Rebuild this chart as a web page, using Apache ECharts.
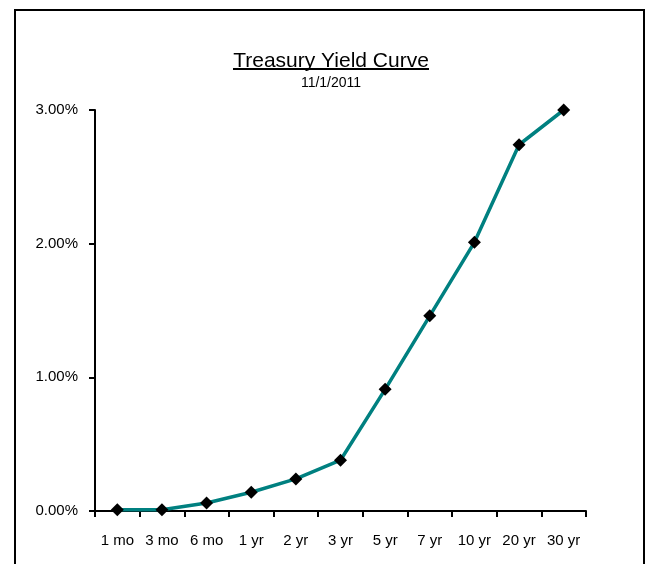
<!DOCTYPE html>
<html>
<head>
<meta charset="utf-8">
<script src="https://cdn.jsdelivr.net/npm/echarts@6/dist/echarts.min.js"></script>
<style>
html,body{margin:0;padding:0;background:#fff;}
#chart{width:647px;height:564px;}
</style>
</head>
<body>
<div id="chart"></div>
<script>
const titleText = "Treasury Yield Curve";
const subtitleText = "11/1/2011";
const categories = ["1 mo", "3 mo", "6 mo", "1 yr", "2 yr", "3 yr", "5 yr", "7 yr", "10 yr", "20 yr", "30 yr"];
const yields = [0.01, 0.01, 0.06, 0.14, 0.24, 0.38, 0.91, 1.46, 2.01, 2.74, 3.00];
const yTicks = [0, 1, 2, 3];

const FONT = "'Liberation Sans Narrow', 'Arial Narrow', 'Liberation Sans', Arial, sans-serif";
const chart = echarts.init(document.getElementById('chart'), null, {renderer: 'canvas'});
chart.setOption({
  animation: false,
  backgroundColor: '#fff',
  graphic: [
    {type: 'rect', shape: {x: 15, y: 10, width: 629, height: 600}, style: {fill: 'none', stroke: '#000', lineWidth: 2}, z: -1},
    {type: 'line', shape: {x1: 233, y1: 69, x2: 429, y2: 69}, style: {stroke: '#000', lineWidth: 2}}
  ],
  title: {
    text: titleText,
    subtext: subtitleText,
    left: 326,
    textAlign: 'center',
    top: 46,
    itemGap: 4,
    textStyle: {fontFamily: FONT, fontSize: 21, fontWeight: 'normal', color: '#000'},
    subtextStyle: {fontFamily: FONT, fontSize: 14, color: '#000'}
  },
  grid: {left: 95, right: 61, top: 110, bottom: 53, containLabel: false},
  xAxis: {
    type: 'category',
    data: categories,
    boundaryGap: true,
    axisLine: {lineStyle: {color: '#000', width: 2}},
    axisTick: {show: true, length: 6, lineStyle: {color: '#000', width: 2}},
    axisLabel: {margin: 22, color: '#000', fontFamily: FONT, fontSize: 15, interval: 0}
  },
  yAxis: {
    type: 'value',
    min: 0, max: 3, interval: 1,
    axisLine: {show: true, lineStyle: {color: '#000', width: 2}},
    axisTick: {show: true, length: 6, lineStyle: {color: '#000', width: 2}},
    splitLine: {show: false},
    axisLabel: {margin: 17, color: '#000', fontFamily: FONT, fontSize: 15,
      formatter: v => yTicks.includes(v) ? v.toFixed(2) + '%' : ''}
  },
  series: [{
    type: 'line',
    data: yields,
    symbol: 'diamond',
    symbolSize: 13,
    itemStyle: {color: '#000'},
    lineStyle: {color: '#008080', width: 3.5},
    z: 3
  }]
});
</script>
</body>
</html>
